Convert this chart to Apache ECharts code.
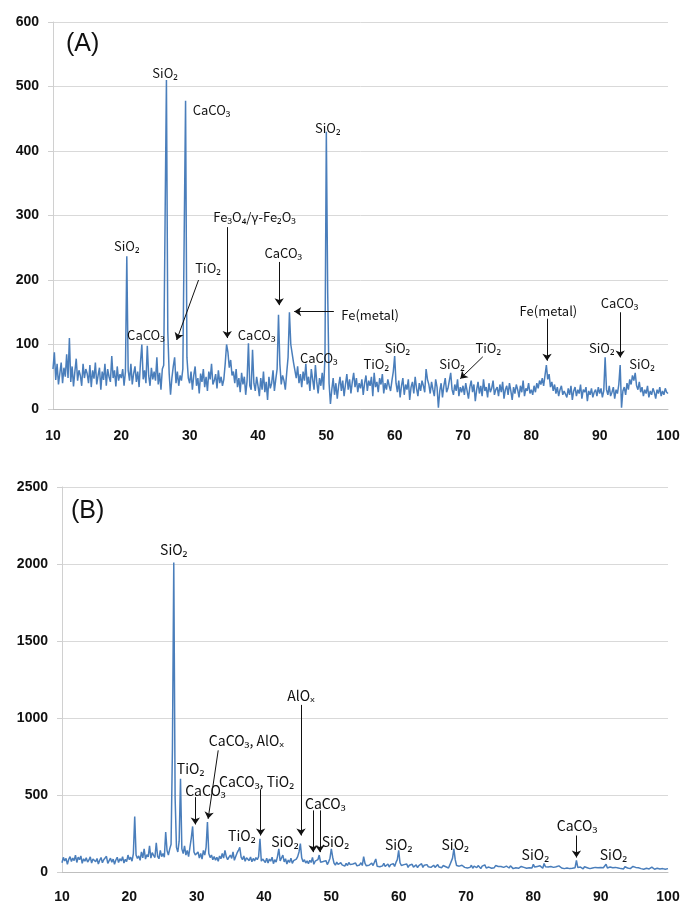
<!DOCTYPE html>
<html><head><meta charset="utf-8">
<script src="https://cdn.jsdelivr.net/npm/echarts@6/dist/echarts.min.js"></script>
<style>html,body{margin:0;padding:0;background:#fff}#c{width:684px;height:904px}</style>
</head><body><div id="c"></div>
<script>
// 2θ sampling of the patterns (degrees)
const angleStart = 10;
const angleStep = 0.2;
const xTickLabels = [10,20,30,40,50,60,70,80,90,100];

// Panel (A) intensities, one value per 0.2°, 10°..100°
const intensityA = [
 62,88,45,70,38,55,72,40,64,50, 85,48,110,42,66,35,58,78,44,60, 52,36,70,48,62,
 55,40,68,34,60,47,72,38,52,64, 30,58,45,70,36,62,50,42,82,48, 60,35,66,44,54,
 48,62,36,58,237,60,44,70,38,55, 66,42,58,34,72,100,46,60,40,98, 52,36,64,46,58,
 44,80,38,56,30,62,68,290,510,120, 55,22,48,66,80,40,58,36,52,44, 62,270,478,80,48,
 40,58,30,52,66,36,48,24,55,42, 62,34,50,28,58,46,70,38,44,54, 32,60,40,50,36,
 46,70,100,88,64,76,52,58,40,62, 34,48,26,56,38,50,22,44,102,36, 30,92,40,28,50,
 36,20,48,30,58,26,42,14,50,32, 40,60,28,46,62,146,70,38,52,44, 30,56,80,150,100,
 86,72,60,48,66,40,54,34,58,44, 70,38,50,28,62,46,30,68,42,24, 48,36,56,30,80,
 430,180,40,8,30,48,22,40,16,36, 50,28,44,20,38,54,30,46,24,42, 56,34,48,26,40,
 32,46,22,40,52,28,44,36,50,20, 56,34,42,26,48,38,54,24,40,30, 46,36,28,44,58,
 82,40,26,44,18,36,48,22,38,30, 46,14,34,42,24,50,32,20,40,28, 44,36,26,62,46,
 38,24,42,30,20,46,34,2,28,40, 18,36,48,26,32,44,56,30,22,38, 28,46,20,34,26,
 36,22,40,28,16,34,44,26,38,12, 30,42,24,36,20,46,28,34,18,40, 26,32,44,22,30,
 34,20,38,26,42,16,30,36,22,40, 28,14,34,24,38,30,18,36,26,44, 20,32,28,40,24,
 30,22,36,26,40,32,44,38,48,36, 52,68,46,54,34,42,28,38,24,34, 20,30,36,22,28,
 26,18,32,22,36,14,28,34,20,30, 24,38,16,30,26,34,12,28,22,32, 18,26,30,20,34,
 24,32,18,28,80,30,22,36,20,26, 34,16,30,24,38,68,2,28,34,22, 40,30,46,38,52,
 44,56,36,30,42,26,34,20,30,24, 36,18,28,22,32,26,16,30,24,34, 20,28,22,32,26,
 24
];

// Panel (B) intensities, one value per 0.2°, 10°..100°
const intensityB = [
 60,95,72,88,50,82,100,68,90,74, 110,62,96,80,104,56,86,70,92,64, 78,98,58,84,72,
 66,88,52,76,94,60,80,70,102,56, 74,90,64,84,50,78,96,62,86,72, 100,58,82,68,110,
 80,96,70,120,360,110,88,104,76,130, 92,150,84,112,98,170,90,126,108,94, 190,102,86,140,100,
 120,96,260,140,110,150,180,800,2010,480, 160,130,200,605,150,120,170,110,140,100, 160,220,296,130,110,
 100,130,90,120,84,140,110,160,324,120, 94,110,80,100,76,96,70,104,86,120, 90,140,100,80,96,
 110,88,130,76,100,124,140,160,96,80, 104,70,92,86,74,98,66,88,72,94, 80,100,216,70,84,
 76,62,90,58,84,70,96,54,80,64, 100,150,72,60,110,66,86,52,78,62, 90,56,74,68,84,
 100,130,185,92,66,80,58,72,54,76, 62,95,50,70,60,80,110,64,52,68, 58,74,48,66,90,
 150,96,58,44,64,50,40,60,46,54, 38,56,42,62,48,36,52,44,58,40, 50,46,60,42,100,
 56,40,52,44,36,58,42,48,85,38, 50,34,46,40,56,36,44,52,32,48, 40,54,36,62,80,
 140,60,42,34,48,38,52,30,44,36, 50,32,40,46,28,42,36,54,30,44, 38,48,34,40,30,
 36,44,30,40,48,32,38,28,42,50, 34,40,26,46,36,90,150,80,42,32, 38,28,44,34,30,
 40,26,36,30,44,24,38,32,28,42, 34,22,38,30,46,26,36,32,40,24, 34,28,42,30,36,
 28,36,48,30,24,38,32,26,40,30, 22,34,28,38,24,32,36,26,30,42, 24,32,28,36,26,
 50,32,26,36,28,40,30,24,55,34, 28,32,22,36,26,30,24,34,28,40, 44,26,32,22,30,
 26,34,22,30,24,36,28,75,30,22, 32,26,20,34,24,28,30,22,34,26, 20,30,24,28,22,
 30,24,28,22,50,26,20,32,24,28, 22,30,18,26,32,22,28,20,34,24, 26,30,22,28,36,
 24,30,20,28,34,22,26,18,30,24, 28,20,26,32,22,18,28,24,30,20, 26,22,28,18,24,
 22
];

// Peak annotations: [text, 2θ, intensity]
const labelsA = [
 ['SiO₂',20.8,253],['SiO₂',26.4,521],['CaCO₃',33.2,463],['SiO₂',50.2,435],
 ['Fe₃O₄/γ-Fe₂O₃',39.5,297],['TiO₂',32.7,219],['CaCO₃',23.6,115],['CaCO₃',39.8,115],
 ['CaCO₃',43.7,242],['Fe(metal)',56.4,146],['CaCO₃',48.9,79],['TiO₂',57.3,69],
 ['SiO₂',60.4,94],['SiO₂',68.4,69],['TiO₂',73.7,94],['Fe(metal)',82.5,152],
 ['CaCO₃',92.9,164],['SiO₂',90.3,94],['SiO₂',96.2,69]
];
// Pointer arrows: [from 2θ, from I, to 2θ, to I]
const arrowsA = [
 [31.3,200,28.1,107],[35.5,282,35.5,110],[43.1,228,43.1,161],[51.1,151,45.3,151],
 [72.9,81,69.6,47],[82.3,140,82.3,75],[93.0,150,93.0,80]
];
const labelsB = [
 ['SiO₂',26.6,2090],['AlOₓ',45.5,1148],['CaCO₃, AlOₓ',37.4,855],['TiO₂',29.1,671],
 ['CaCO₃',31.3,530],['CaCO₃, TiO₂',38.9,584],['TiO₂',36.7,237],['SiO₂',43.1,200],
 ['CaCO₃',49.1,443],['SiO₂',50.6,200],['SiO₂',60.0,179],['SiO₂',68.4,179],
 ['SiO₂',80.3,114],['CaCO₃',86.5,302],['SiO₂',91.9,114]
];
const arrowsB = [
 [45.5,1085,45.5,237],[33.2,790,31.7,345],[29.8,486,29.8,309],[39.5,536,39.5,237],
 [47.3,400,47.3,129],[48.3,400,48.3,129],[86.4,237,86.4,94]
];

function toPairs(vals){ return vals.map((v,i)=>[angleStart + i*angleStep, v]); }
const labFont = '"Noto Sans CJK KR","Noto Sans",sans-serif';
function mkPoints(list, fs){
  return {
    symbol:'circle', symbolSize:0, silent:true, animation:false,
    itemStyle:{color:'transparent'},
    label:{show:true, position:'inside', formatter:p=>p.name, color:'#111', fontSize:fs, fontFamily:labFont},
    data: list.map(l=>({name:l[0], coord:[l[1],l[2]]}))
  };
}
function mkArrows(list){
  return {
    silent:true, animation:false, symbol:['none','arrow'], symbolSize:7,
    lineStyle:{color:'#111', width:1, type:'solid'}, label:{show:false},
    data: list.map(a=>[{coord:[a[0],a[1]], symbol:'none'},{coord:[a[2],a[3]], symbol:'arrow', symbolSize:7}])
  };
}
const axisLab = {color:'#111', fontSize:14, fontWeight:'bold', fontFamily:'"Liberation Sans",Arial,sans-serif'};
function xAxis(gi, margin){
  return {type:'value', gridIndex:gi, min:10, max:100, interval:10,
    axisLine:{show:true, lineStyle:{color:'#bfbfbf'}}, axisTick:{show:false},
    splitLine:{show:false}, axisLabel:Object.assign({margin:margin, formatter:v=>xTickLabels.includes(v)?String(v):''}, axisLab)};
}
function yAxis(gi,max,interval){
  return {type:'value', gridIndex:gi, min:0, max:max, interval:interval,
    axisLine:{show:true, lineStyle:{color:'#d0d0d0'}}, axisTick:{show:true, length:5, lineStyle:{color:'#d0d0d0'}},
    splitLine:{show:true, lineStyle:{color:'#d9d9d9'}}, axisLabel:Object.assign({margin:14, formatter:v=>String(v)}, axisLab)};
}
const chart = echarts.init(document.getElementById('c'), null, {renderer:'canvas'});
chart.setOption({
  animation:false,
  backgroundColor:'#fff',
  title:[
    {text:'(A)', left:61, top:27, textStyle:{fontSize:25, fontWeight:'normal', color:'#111', fontFamily:'"Liberation Sans",Arial,sans-serif'}},
    {text:'(B)', left:66, top:494, textStyle:{fontSize:25, fontWeight:'normal', color:'#111', fontFamily:'"Liberation Sans",Arial,sans-serif'}}
  ],
  grid:[
    {left:53, right:16, top:22, height:387},
    {left:62, right:16, top:487, height:385}
  ],
  xAxis:[xAxis(0,20), xAxis(1,18)],
  yAxis:[yAxis(0,600,100), yAxis(1,2500,500)],
  series:[
    {type:'line', xAxisIndex:0, yAxisIndex:0, data:toPairs(intensityA), showSymbol:false, symbol:'none',
     lineStyle:{color:'#4a7ebb', width:1.5}, markPoint:mkPoints(labelsA,13), markLine:mkArrows(arrowsA)},
    {type:'line', xAxisIndex:1, yAxisIndex:1, data:toPairs(intensityB), showSymbol:false, symbol:'none',
     lineStyle:{color:'#4a7ebb', width:1.5}, markPoint:mkPoints(labelsB,14), markLine:mkArrows(arrowsB)}
  ]
});
</script></body></html>
